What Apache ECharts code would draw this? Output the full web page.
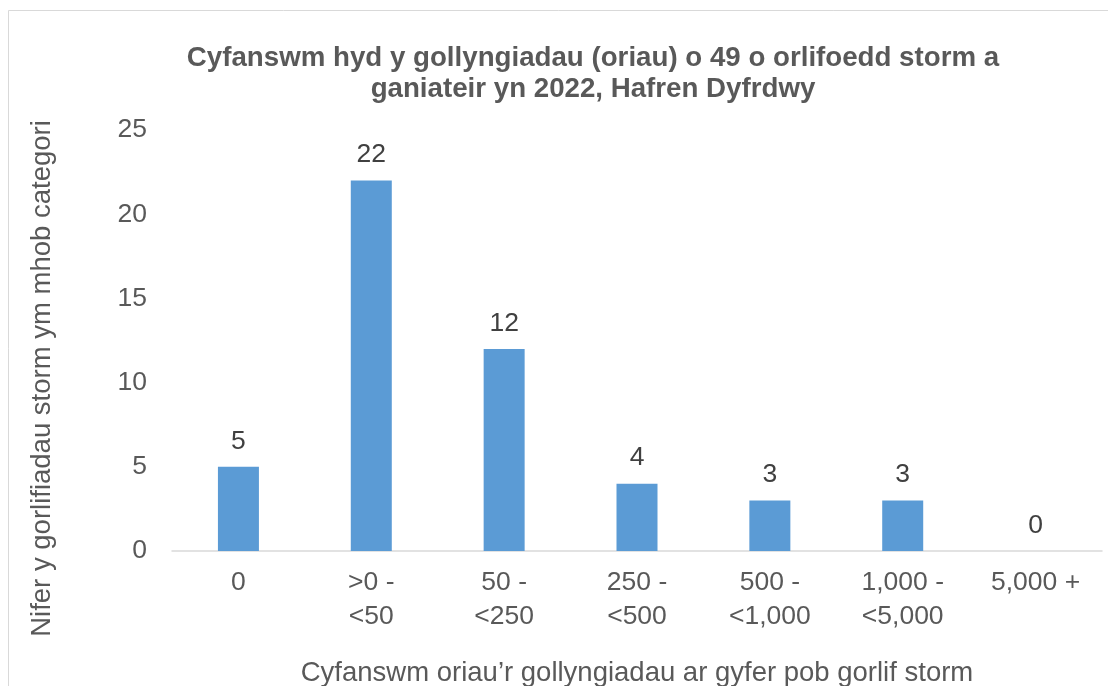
<!DOCTYPE html>
<html>
<head>
<meta charset="utf-8">
<script src="https://cdn.jsdelivr.net/npm/echarts@6/dist/echarts.min.js"></script>
<style>html,body{margin:0;padding:0;background:#fff}#c{width:1108px;height:686px}</style>
</head>
<body>
<div id="c"></div>
<script>
const categories = ['0', '>0 -\n<50', '50 -\n<250', '250 -\n<500', '500 -\n<1,000', '1,000 -\n<5,000', '5,000 +'];
const values = [5, 22, 12, 4, 3, 3, 0];
const yTicks = [0, 5, 10, 15, 20, 25];
const titleText = 'Cyfanswm hyd y gollyngiadau (oriau) o 49 o orlifoedd storm a\nganiateir yn 2022, Hafren Dyfrdwy';
const yName = 'Nifer y gorlifiadau storm ym mhob categori';
const xName = 'Cyfanswm oriau\u2019r gollyngiadau ar gyfer pob gorlif storm';

const chart = echarts.init(document.getElementById('c'), null, {renderer: 'canvas'});
const font = 'Liberation Sans, Arial, sans-serif';
chart.setOption({
  animation: false,
  backgroundColor: '#fff',
  graphic: [{
    type: 'rect', shape: {x: 8.5, y: 10.5, width: 1200, height: 800},
    style: {fill: 'none', stroke: '#d9d9d9', lineWidth: 1}, silent: true, z: -1
  }],
  title: {
    text: titleText, left: 588, top: 38, textAlign: 'center',
    textStyle: {fontFamily: font, fontSize: 27.7, fontWeight: 'bold', color: '#595959', lineHeight: 31}
  },
  grid: {left: 172, right: 6, top: 130, bottom: 135, containLabel: false, outerBoundsMode: 'none'},
  xAxis: {
    type: 'category', data: categories,
    axisLine: {lineStyle: {color: '#d9d9d9', width: 1.5}},
    axisTick: {show: false},
    axisLabel: {fontFamily: font, fontSize: 26.5, color: '#595959', margin: 15, lineHeight: 34, interval: 0},
    name: xName, nameLocation: 'middle', nameGap: 108,
    nameTextStyle: {fontFamily: font, fontSize: 27.5, color: '#595959'}
  },
  yAxis: {
    type: 'value', min: 0, max: 25, interval: 5,
    axisLine: {show: false}, axisTick: {show: false},
    splitLine: {show: false},
    axisLabel: {fontFamily: font, fontSize: 26.5, color: '#595959', margin: 25,
      formatter: v => yTicks.includes(v) ? String(v) : ''},
    name: yName, nameLocation: 'middle', nameGap: 116, nameRotate: 90,
    nameTextStyle: {fontFamily: font, fontSize: 27.5, color: '#595959', padding: [0, 76, 0, 0]}
  },
  series: [{
    type: 'bar', data: values, barWidth: 41,
    itemStyle: {color: '#5b9bd5'},
    label: {show: true, position: 'top', distance: 12, fontFamily: font, fontSize: 26.5, color: '#404040'}
  }]
});
</script>
</body>
</html>
